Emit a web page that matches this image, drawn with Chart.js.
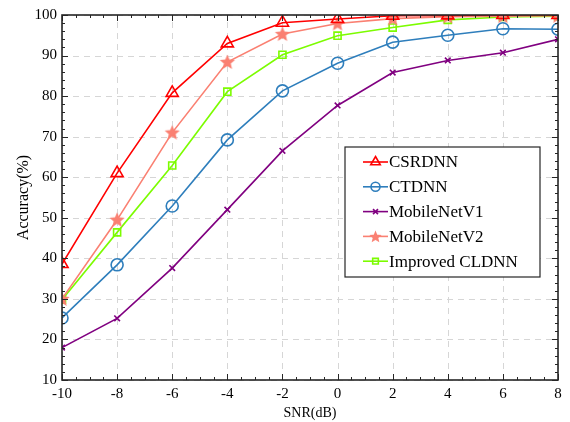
<!DOCTYPE html>
<html>
<head>
<meta charset="utf-8">
<script src="https://cdn.jsdelivr.net/npm/chart.js@4/dist/chart.umd.min.js"></script>
<style>
  html, body { margin: 0; padding: 0; background: #fff; }
  #wrap { width: 570px; height: 422px; }
</style>
</head>
<body>
<div id="wrap"><canvas id="accChart" width="570" height="422"></canvas></div>
<script>
// data
var snr = [-10, -8, -6, -4, -2, 0, 2, 4, 6, 8];
var csrdnn   = [38.6, 61.0, 80.8, 93.0, 98.1, 99.0, 99.8, 99.9, 100.0, 100.0];
var ctdnn    = [25.3, 38.4, 52.9, 69.2, 81.3, 88.1, 93.3, 95.0, 96.6, 96.5];
var mobileV1 = [18.0, 25.2, 37.6, 52.0, 66.5, 77.7, 85.8, 88.8, 90.7, 94.0];
var mobileV2 = [30.0, 49.5, 71.0, 88.4, 95.3, 97.9, 99.1, 99.6, 99.7, 99.8];
var cldnn    = [29.8, 46.4, 62.9, 81.1, 90.2, 94.9, 96.9, 98.8, 99.5, 99.7];
var yTicks = [10, 20, 30, 40, 50, 60, 70, 80, 90, 100];

var FONT = '"Liberation Serif", "Times New Roman", serif';

function pts(arr) {
    return arr.map(function(v, i) { return { x: snr[i], y: v }; });
}

// filled five-point star marker
function makeStar(color, r) {
    var c = document.createElement('canvas');
    var s = Math.ceil(r * 2 + 2);
    c.width = s; c.height = s;
    var g = c.getContext('2d');
    g.fillStyle = color;
    g.beginPath();
    for (var i = 0; i < 10; i++) {
        var rad = (i % 2 === 0) ? r : r * 0.45;
        var a = -Math.PI / 2 + i * Math.PI / 5;
        var px = s / 2 + rad * Math.cos(a), py = s / 2 + 0.5 + rad * Math.sin(a);
        if (i === 0) g.moveTo(px, py); else g.lineTo(px, py);
    }
    g.closePath();
    g.fill();
    return c;
}
var starImg = makeStar('#fa8072', 8);
var starSmall = makeStar('#fa8072', 6.5);

var series = [
    { label: 'CSRDNN', data: pts(csrdnn), color: '#ff0000', style: 'triangle', r: 7, lr: 5.5 },
    { label: 'CTDNN', data: pts(ctdnn), color: '#2e7ebc', style: 'circle', r: 6, lr: 4.5 },
    { label: 'MobileNetV1', data: pts(mobileV1), color: '#800080', style: 'crossRot', r: 4, lr: 3.5 },
    { label: 'MobileNetV2', data: pts(mobileV2), color: '#fa8072', style: starImg, r: 8, lr: 6.5, lstyle: starSmall },
    { label: 'Improved CLDNN', data: pts(cldnn), color: '#7cfc00', style: 'rect', r: 5, lr: 4 }
];

var datasets = series.map(function(s) {
    return {
        label: s.label,
        data: s.data,
        borderColor: s.color,
        backgroundColor: 'rgba(0,0,0,0)',
        borderWidth: 1.6,
        pointStyle: s.style,
        pointRadius: s.r,
        pointBorderWidth: 1.6,
        pointBorderColor: s.color,
        pointBackgroundColor: 'rgba(0,0,0,0)',
        tension: 0
    };
});

// dashed grid drawn under the lines
var gridPlugin = {
    id: 'dashGrid',
    beforeDatasetsDraw: function(chart) {
        var ctx = chart.ctx, a = chart.chartArea;
        var xs = chart.scales.x, ys = chart.scales.y;
        ctx.save();
        ctx.strokeStyle = '#d6d6d6';
        ctx.lineWidth = 1;
        ctx.setLineDash([6, 5]);
        snr.forEach(function(v) {
            var px = Math.round(xs.getPixelForValue(v)) + 0.5;
            ctx.beginPath(); ctx.moveTo(px, a.bottom); ctx.lineTo(px, a.top); ctx.stroke();
        });
        yTicks.forEach(function(v) {
            var py = Math.round(ys.getPixelForValue(v)) + 0.5;
            ctx.beginPath(); ctx.moveTo(a.left, py); ctx.lineTo(a.right, py); ctx.stroke();
        });
        ctx.restore();
    }
};

// frame with inward ticks (major + minor)
var framePlugin = {
    id: 'frame',
    afterDraw: function(chart) {
        var ctx = chart.ctx, a = chart.chartArea;
        var xs = chart.scales.x, ys = chart.scales.y;
        ctx.save();
        ctx.strokeStyle = '#262626';
        ctx.lineWidth = 1;
        var v, px, len;
        for (v = -10; v <= 8.001; v += 0.5) {
            px = Math.round(xs.getPixelForValue(v)) + 0.5;
            len = (Math.abs(v % 2) < 0.01) ? 6 : 3;
            ctx.beginPath();
            ctx.moveTo(px, a.bottom); ctx.lineTo(px, a.bottom - len);
            ctx.moveTo(px, a.top); ctx.lineTo(px, a.top + len);
            ctx.stroke();
        }
        for (v = 10; v <= 100.001; v += 2) {
            px = Math.round(ys.getPixelForValue(v)) + 0.5;
            len = (v % 10 === 0) ? 6 : 3;
            ctx.beginPath();
            ctx.moveTo(a.left, px); ctx.lineTo(a.left + len, px);
            ctx.moveTo(a.right, px); ctx.lineTo(a.right - len, px);
            ctx.stroke();
        }
        ctx.lineWidth = 1.6;
        ctx.strokeRect(a.left, a.top, a.right - a.left, a.bottom - a.top);
        ctx.restore();
    }
};

// boxed legend inside the plot
var legendPlugin = {
    id: 'boxLegend',
    afterDraw: function(chart) {
        var ctx = chart.ctx;
        var bx = 345, by = 147, bw = 195, bh = 130;
        ctx.save();
        ctx.fillStyle = '#fff';
        ctx.fillRect(bx, by, bw, bh);
        ctx.strokeStyle = '#262626';
        ctx.lineWidth = 1.2;
        ctx.strokeRect(bx, by, bw, bh);
        ctx.font = '17px ' + FONT;
        ctx.textBaseline = 'middle';
        series.forEach(function(s, i) {
            var y = 162 + i * 24.8;
            ctx.strokeStyle = s.color;
            ctx.lineWidth = 1.6;
            ctx.beginPath();
            ctx.moveTo(363, y); ctx.lineTo(388, y);
            ctx.stroke();
            ctx.fillStyle = 'rgba(0,0,0,0)';
            Chart.helpers.drawPoint(ctx, {
                pointStyle: s.lstyle || s.style,
                radius: s.lr,
                borderWidth: 1.6
            }, 375.5, y);
            ctx.fillStyle = '#000';
            ctx.fillText(s.label, 389, y + 1);
        });
        ctx.restore();
    }
};

var ctx = document.getElementById('accChart').getContext('2d');
var accChart = new Chart(ctx, {
    type: 'line',
    data: { datasets: datasets },
    options: {
        responsive: false,
        animation: false,
        layout: { padding: { top: 15, right: 12, left: 0, bottom: 0 } },
        plugins: {
            legend: { display: false },
            tooltip: { enabled: false }
        },
        scales: {
            x: {
                type: 'linear',
                min: -10,
                max: 8,
                afterFit: function(scale) { scale.height = 42; },
                afterBuildTicks: function(scale) {
                    scale.ticks = snr.map(function(v) { return { value: v }; });
                },
                ticks: {
                    color: '#000',
                    padding: 5,
                    font: { family: FONT, size: 15 },
                    callback: function(v) { return String(v); }
                },
                grid: { display: false, drawTicks: false },
                border: { display: false },
                title: {
                    display: true,
                    text: 'SNR(dB)',
                    color: '#000',
                    font: { family: FONT, size: 14 },
                    padding: { top: 4, bottom: 0 }
                }
            },
            y: {
                min: 10,
                max: 100,
                afterFit: function(scale) { scale.width = 62; },
                afterBuildTicks: function(scale) {
                    scale.ticks = yTicks.map(function(v) { return { value: v }; });
                },
                ticks: {
                    color: '#000',
                    padding: 5,
                    font: { family: FONT, size: 15 }
                },
                grid: { display: false, drawTicks: false },
                border: { display: false },
                title: {
                    display: true,
                    text: 'Accuracy(%)',
                    color: '#000',
                    font: { family: FONT, size: 16 },
                    padding: { top: 14, bottom: 0 }
                }
            }
        }
    },
    plugins: [gridPlugin, framePlugin, legendPlugin]
});
</script>
</body>
</html>
